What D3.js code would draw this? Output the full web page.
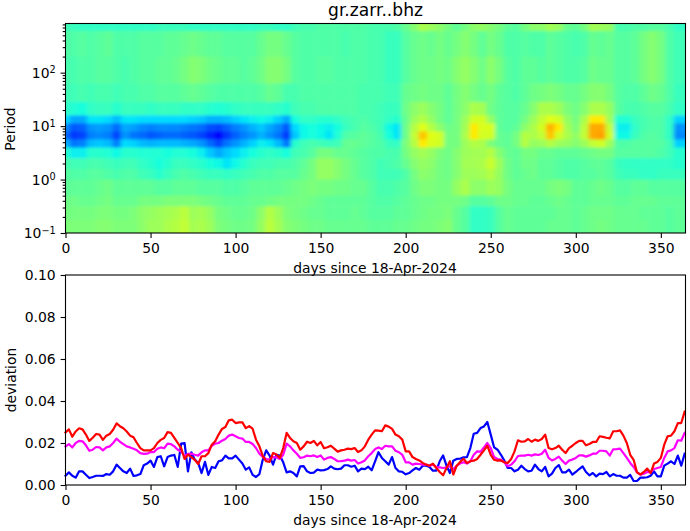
<!DOCTYPE html>
<html>
<head>
<meta charset="utf-8">
<script src="https://cdn.jsdelivr.net/npm/d3@7"></script>
<style>
body { margin: 0; background: #fff; }
text { font-family: "DejaVu Sans", sans-serif; fill: #000; }
.tick text { font-size: 13.9px; }
.axis path, .axis line { stroke: #000; stroke-width: 1.1px; }
.label { font-size: 13.9px; }
.title { font-size: 17.1px; }
</style>
</head>
<body>
<div id="graphic"></div>
<script>
var titleText = "gr.zarr..bhz";
var xLabel = "days since 18-Apr-2024";
var xTicks = [0, 50, 100, 150, 200, 250, 300, 350];
var devTicks = [0, 0.02, 0.04, 0.06, 0.08, 0.1];
var periodTicks = [0.1, 1, 10, 100];

// log10(period) edges of the heatmap rows, top to bottom
var rowEdges = [2.92, 2.78, 2.3, 1.8, 1.45, 1.2, 1.05, 0.9, 0.75, 0.6, 0.4, 0.2, 0, -0.3, -0.5, -0.75, -1];
// heatmap columns are centred every 5 days; values are positions on the colour map
var colDays = d3.range(0, 365, 5);
var cells = [
 [.43,.42,.41,.41,.41,.41,.41,.41,.41,.41, .41,.42,.42,.42,.42,.41,.41,.41,.41,.41, .41,.41,.41,.42,.42,.41,.41,.43,.44,.44, .45,.45,.45,.45,.45,.45,.44,.44,.44,.45, .48,.52,.57,.55,.53,.50,.47,.50,.53,.54, .52,.50,.47,.46,.50,.53,.53,.56,.54,.48, .47,.50,.56,.55,.54,.44,.44,.45,.45,.46, .46,.44,.41],
 [.45,.45,.46,.45,.46,.47,.45,.45,.45,.46, .46,.46,.47,.47,.48,.49,.48,.47,.47,.46, .46,.46,.46,.48,.50,.50,.48,.46,.45,.45, .45,.45,.45,.44,.45,.45,.44,.44,.42,.42, .46,.48,.49,.48,.50,.48,.50,.52,.50,.47, .50,.48,.45,.45,.46,.45,.45,.47,.46,.45, .44,.45,.48,.47,.48,.46,.46,.47,.50,.52, .50,.45,.43],
 [.44,.44,.45,.45,.46,.46,.45,.44,.45,.46, .46,.47,.47,.48,.50,.52,.51,.49,.48,.47, .47,.46,.47,.49,.52,.52,.50,.46,.45,.45, .46,.46,.45,.45,.45,.45,.44,.44,.42,.42, .46,.48,.49,.49,.50,.49,.52,.54,.52,.49, .53,.50,.46,.45,.47,.47,.46,.47,.46,.45, .45,.46,.49,.48,.48,.46,.46,.47,.50,.52, .50,.45,.43],
 [.43,.43,.44,.43,.44,.44,.43,.44,.44,.45, .45,.46,.46,.46,.47,.48,.47,.46,.45,.45, .45,.45,.45,.46,.48,.47,.44,.44,.45,.45, .45,.45,.45,.45,.45,.44,.44,.44,.43,.43, .48,.49,.50,.49,.49,.47,.50,.52,.50,.48, .50,.47,.46,.45,.47,.49,.50,.51,.50,.48, .48,.50,.52,.52,.50,.46,.45,.45,.47,.49, .48,.45,.42],
 [.41,.39,.38,.41,.42,.42,.40,.42,.42,.42, .41,.42,.42,.42,.41,.41,.41,.40,.39,.40, .41,.42,.42,.42,.42,.41,.40,.43,.44,.44, .45,.45,.45,.45,.45,.44,.44,.43,.42,.42, .49,.53,.55,.52,.50,.47,.50,.53,.57,.56, .49,.47,.46,.46,.48,.52,.57,.57,.55,.51, .49,.52,.57,.57,.54,.46,.44,.44,.45,.46, .46,.44,.41],
 [.34,.29,.29,.35,.35,.34,.31,.35,.35,.34, .34,.34,.34,.34,.34,.33,.32,.30,.30,.31, .33,.35,.36,.37,.36,.33,.29,.38,.41,.41, .40,.40,.41,.43,.44,.45,.44,.43,.41,.40, .48,.55,.58,.54,.50,.47,.50,.55,.62,.62, .54,.47,.46,.46,.50,.55,.60,.64,.62,.54, .50,.57,.66,.66,.55,.39,.39,.42,.44,.45, .45,.41,.33],
 [.26,.21,.22,.27,.28,.27,.23,.29,.28,.26, .25,.26,.26,.26,.25,.24,.23,.20,.19,.22, .25,.27,.30,.32,.29,.26,.21,.34,.37,.38, .37,.36,.38,.42,.44,.46,.45,.43,.37,.35, .49,.58,.64,.58,.53,.49,.50,.56,.66,.63, .63,.47,.46,.47,.53,.57,.62,.72,.66,.56, .51,.59,.73,.73,.60,.36,.36,.41,.44,.45, .45,.41,.27],
 [.23,.18,.19,.25,.26,.25,.19,.27,.24,.23, .21,.22,.23,.23,.22,.21,.19,.16,.13,.18, .22,.25,.27,.30,.27,.24,.18,.32,.37,.38, .37,.35,.39,.45,.46,.47,.46,.44,.38,.35, .49,.60,.70,.64,.62,.50,.50,.57,.66,.62, .62,.48,.47,.50,.58,.57,.60,.70,.62,.57, .53,.60,.73,.74,.62,.37,.37,.42,.45,.46, .45,.41,.26],
 [.30,.24,.25,.31,.32,.31,.25,.34,.33,.31, .30,.31,.31,.31,.30,.29,.27,.23,.19,.24, .27,.30,.33,.36,.35,.31,.24,.40,.43,.44, .43,.42,.43,.48,.48,.47,.46,.45,.42,.41, .51,.58,.66,.63,.62,.50,.50,.55,.58,.57, .51,.48,.47,.50,.58,.54,.55,.58,.55,.54, .52,.55,.60,.62,.55,.45,.45,.46,.46,.46, .46,.43,.33],
 [.40,.36,.36,.40,.40,.39,.37,.40,.40,.39, .39,.39,.38,.39,.39,.38,.36,.32,.29,.32, .34,.36,.38,.40,.41,.40,.38,.43,.44,.46, .50,.50,.48,.48,.47,.46,.45,.45,.44,.44, .50,.54,.56,.54,.51,.49,.52,.55,.56,.56, .58,.52,.48,.47,.50,.50,.48,.48,.47,.47, .47,.48,.49,.50,.50,.46,.46,.46,.46,.46, .45,.43,.40],
 [.44,.43,.43,.44,.44,.43,.42,.43,.43,.41, .40,.38,.40,.42,.42,.41,.40,.38,.37,.35, .37,.40,.42,.43,.43,.44,.44,.45,.47,.50, .54,.54,.52,.50,.48,.46,.45,.43,.44,.45, .48,.52,.54,.53,.50,.49,.52,.56,.56,.57, .61,.55,.49,.47,.49,.49,.47,.47,.46,.45, .45,.46,.47,.47,.46,.42,.41,.41,.41,.41, .41,.41,.40],
 [.46,.45,.45,.46,.46,.45,.44,.45,.45,.43, .42,.40,.42,.44,.45,.44,.43,.42,.42,.41, .42,.43,.44,.45,.45,.46,.46,.46,.48,.50, .54,.54,.52,.50,.48,.46,.45,.43,.43,.43, .45,.50,.53,.52,.50,.49,.52,.55,.55,.56, .58,.54,.49,.47,.48,.49,.47,.47,.46,.45, .45,.46,.46,.47,.46,.43,.42,.42,.41,.41, .42,.42,.42],
 [.47,.47,.47,.47,.48,.49,.47,.47,.47,.47, .47,.46,.46,.47,.47,.47,.46,.46,.46,.45, .45,.46,.47,.47,.47,.47,.48,.49,.50,.51, .50,.50,.49,.49,.48,.48,.46,.44,.44,.45, .46,.49,.51,.51,.50,.50,.54,.57,.53,.53, .55,.54,.50,.48,.48,.48,.48,.50,.51,.50, .47,.47,.48,.49,.48,.46,.46,.47,.47,.46, .46,.46,.46],
 [.49,.49,.48,.48,.49,.50,.48,.48,.48,.50, .50,.50,.51,.51,.51,.51,.50,.49,.48,.47, .47,.47,.48,.48,.49,.50,.50,.50,.50,.49, .48,.47,.47,.47,.47,.47,.46,.45,.45,.46, .47,.48,.49,.49,.50,.50,.50,.49,.46,.46, .47,.49,.49,.48,.48,.47,.47,.48,.49,.48, .47,.47,.48,.48,.48,.47,.47,.48,.48,.48, .47,.47,.47],
 [.50,.50,.50,.50,.51,.51,.50,.50,.51,.53, .54,.55,.56,.57,.59,.55,.56,.54,.50,.49, .48,.48,.49,.53,.58,.55,.51,.50,.49,.48, .48,.47,.47,.47,.48,.47,.46,.46,.46,.47, .47,.48,.49,.50,.50,.51,.48,.46,.41,.41, .42,.46,.48,.47,.47,.47,.47,.47,.48,.48, .47,.48,.49,.49,.49,.48,.48,.48,.47,.47, .47,.46,.47],
 [.51,.51,.51,.51,.52,.52,.51,.51,.51,.53, .55,.55,.57,.58,.60,.56,.57,.55,.51,.50, .49,.49,.50,.54,.59,.56,.52,.51,.50,.49, .49,.48,.48,.48,.48,.48,.47,.47,.47,.48, .48,.49,.50,.50,.51,.52,.48,.46,.41,.41, .42,.46,.48,.47,.47,.47,.47,.48,.48,.48, .47,.48,.49,.50,.49,.48,.48,.48,.48,.47, .47,.46,.47]
];

var days = d3.range(0, 365, 2);
var redValues = [
 .025,.0265,.023,.0255,.027,.0265,.024,.021,.0225,.0243,
 .024,.0215,.0235,.0243,.0263,.0293,.028,.027,.0255,.0235,
 .0227,.02,.0176,.0165,.0165,.0165,.0176,.02,.0215,.0224,
 .0252,.0248,.0224,.02,.0176,.0124,.0145,.0133,.012,.01,
 .0137,.0137,.0152,.0192,.0208,.024,.0267,.0276,.0308,.0311,
 .0295,.0298,.0298,.0271,.028,.0268,.0216,.0184,.0137,.0113,
 .011,.0152,.0145,.0129,.0176,.0248,.0224,.0208,.02,.0168,
 .0184,.0206,.02,.021,.0189,.0205,.0175,.018,.0187,.0173,
 .0159,.0165,.0168,.0173,.0171,.0176,.0157,.0165,.0184,.0216,
 .024,.026,.0259,.0256,.0284,.0278,.0267,.024,.0232,.0216,
 .016,.016,.0133,.0124,.0117,.0105,.0097,.0092,.0102,.0081,
 .0062,.0046,.0081,.0113,.005,.0092,.011,.0125,.0105,.0113,
 .0116,.0124,.0144,.0165,.0187,.0144,.012,.0116,.0117,.0108,
 .0105,.0124,.016,.0213,.0206,.0208,.0219,.0206,.0216,.021,
 .0219,.024,.0176,.017,.0176,.0187,.0168,.0152,.0176,.0187,
 .02,.021,.021,.0189,.0195,.0205,.0205,.0232,.0229,.0225,
 .0222,.0256,.0256,.026,.0235,.02,.0144,.012,.006,.005,
 .0062,.0078,.0057,.0102,.011,.0129,.0192,.0232,.0235,.0256,
 .0295,.0295,.0349
];
var magentaValues = [
 .0184,.0195,.0179,.02,.021,.0208,.0189,.0163,.0168,.0181,
 .0179,.0165,.0179,.0184,.02,.0221,.0206,.0195,.0184,.0179,
 .0173,.0165,.0152,.0148,.0149,.0157,.0157,.0173,.0179,.0175,
 .0197,.0195,.0184,.0168,.0159,.014,.0148,.0149,.0144,.014,
 .0156,.0165,.0165,.0187,.0197,.02,.0211,.0219,.0235,.024,
 .0232,.0224,.0221,.0205,.0205,.0195,.0176,.0149,.0133,.0124,
 .0121,.0133,.0132,.0124,.0144,.0197,.0184,.0165,.0149,.0129,
 .0132,.014,.0137,.0141,.0133,.0141,.0121,.0129,.0133,.0124,
 .0113,.0114,.0116,.0121,.0116,.0119,.0102,.0108,.0117,.0137,
 .0152,.0171,.0179,.0171,.0187,.0184,.0184,.0163,.0156,.0144,
 .0108,.0108,.0097,.0102,.01,.0097,.0097,.0092,.0097,.0086,
 .0084,.0081,.0084,.0089,.0076,.0092,.0102,.0108,.0102,.0113,
 .0144,.016,.0159,.0179,.02,.0176,.0133,.0124,.0121,.0108,
 .0089,.0097,.0113,.0138,.014,.014,.0144,.014,.0146,.0143,
 .0149,.0168,.0129,.0117,.0124,.0135,.0116,.01,.0116,.0121,
 .0129,.0141,.0141,.0135,.0141,.0149,.0149,.0163,.0163,.016,
 .014,.017,.0171,.0173,.0152,.0129,.0105,.0086,.006,.0049,
 .0054,.0062,.006,.0076,.0081,.0086,.0129,.016,.0165,.0176,
 .0213,.0211,.0248
];
var blueValues = [
 .0044,.006,.0044,.0035,.0065,.0065,.0049,.0033,.0038,.0044,
 .0044,.0043,.0052,.0049,.0065,.0097,.0081,.0065,.0057,.0078,
 .0043,.0046,.0052,.0094,.0102,.0116,.0086,.0133,.0137,.0089,
 .0133,.014,.0143,.0086,.0197,.02,.0065,.0156,.0121,.0105,
 .0057,.011,.0048,.0086,.0081,.0113,.0117,.014,.0127,.0127,
 .014,.0121,.0102,.0073,.0084,.0048,.0038,.0052,.0121,.0165,
 .014,.0097,.0144,.014,.0108,.006,.0065,.0057,.0041,.0089,
 .009,.0065,.0057,.0059,.0073,.007,.0071,.0076,.0089,.0078,
 .0075,.0078,.0094,.0094,.0087,.0092,.0065,.0078,.0076,.0087,
 .007,.0113,.0156,.0129,.0113,.0097,.0133,.0081,.0065,.0063,
 .0051,.0057,.007,.0081,.0073,.0092,.0092,.0086,.0068,.0068,
 .0113,.0141,.0092,.0057,.0116,.0124,.0125,.0132,.0133,.0176,
 .0244,.0248,.0271,.0279,.03,.024,.0179,.0168,.0144,.0116,
 .0081,.0081,.0065,.0073,.0092,.0076,.0065,.0068,.0097,.0076,
 .0065,.0086,.0041,.0054,.0081,.0095,.006,.006,.0073,.0049,
 .0062,.0076,.0089,.0062,.0046,.0057,.0041,.0054,.0052,.0062,
 .0041,.0052,.0044,.0044,.0035,.0035,.0048,.0019,.0019,.0035,
 .0035,.0037,.0044,.0065,.0041,.0041,.0092,.0102,.0113,.01,
 .014,.0092,.0149
];

var w = 690, h = 531;
var left = 65.5, right = 685.5;
var svg = d3.select("#graphic").append("svg")
    .attr("width", w).attr("height", h)
    .style("display", "block");

var xTop = d3.scaleLinear().domain([0, 364.5]).range([left, right]);
var xBottom = d3.scaleLinear().domain([0, 364.5]).range([left, right]);
var yPeriod = d3.scaleLog().domain([0.1, Math.pow(10, 2.92)]).range([233, 23.5]);
var yDev = d3.scaleLinear().domain([0, 0.1]).range([485, 275]);

// matplotlib jet
var jet = d3.scaleLinear()
    .domain([0, .11, .125, .34, .35, .375, .64, .65, .66, .89, .91, 1])
    .range(["#000080", "#0000ff", "#0000ff", "#00dbff", "#00e5f8", "#15ffe1", "#e1ff15", "#f1fc06", "#ffea00", "#ff1300", "#e80000", "#800000"]);

var defs = svg.append("defs");
defs.append("clipPath").attr("id", "topClip").append("rect")
    .attr("x", left).attr("y", 23.5).attr("width", right - left).attr("height", 209.5);
var blur = defs.append("filter").attr("id", "soft")
    .attr("filterUnits", "userSpaceOnUse")
    .attr("x", 40).attr("y", 0).attr("width", 670).attr("height", 260);
blur.append("feGaussianBlur").attr("stdDeviation", "2.2 1.5");

// heatmap cells, padded past the frame so the blur does not fade at the edges
var heat = svg.append("g").attr("clip-path", "url(#topClip)")
    .append("g").attr("filter", "url(#soft)");
cells.forEach(function(row, r){
    var y0 = yPeriod(Math.pow(10, rowEdges[r]));
    var y1 = yPeriod(Math.pow(10, rowEdges[r + 1]));
    if (r == 0) y0 -= 10;
    if (r == cells.length - 1) y1 += 10;
    heat.selectAll("rect.r" + r)
        .data(row)
        .enter()
        .append("rect")
        .attr("class", "r" + r)
        .attr("x", function(d, i){ return xTop(colDays[i] - 2.5) - (i == 0 ? 10 : 0); })
        .attr("y", y0)
        .attr("width", function(d, i){
            var end = i == colDays.length - 1 ? 380 : colDays[i] + 2.5;
            return xTop(end) - xTop(colDays[i] - 2.5) + (i == 0 ? 10 : 0) + 0.5;
        })
        .attr("height", y1 - y0 + 0.5)
        .attr("fill", function(d){ return jet(d); });
});

function frame(y0, y1){
    svg.append("rect")
        .attr("x", left).attr("y", y0)
        .attr("width", right - left).attr("height", y1 - y0)
        .attr("fill", "none").attr("stroke", "#000").attr("stroke-width", 1.1);
}

function bottomAxis(scale, y){
    var g = svg.append("g").attr("class", "axis")
        .attr("transform", "translate(0," + y + ")")
        .call(d3.axisBottom(scale).tickValues(xTicks).tickSize(4.9).tickPadding(4.9).tickFormat(d3.format("d")));
    g.select(".domain").remove();
}

// top panel
bottomAxis(xTop, 233);
var minor = [];
d3.range(-1, 3).forEach(function(e){
    d3.range(2, 10).forEach(function(m){
        var v = m * Math.pow(10, e);
        if (v < yPeriod.domain()[1]) minor.push(v);
    });
});
var yMinor = svg.append("g").attr("class", "axis")
    .attr("transform", "translate(" + left + ",0)")
    .call(d3.axisLeft(yPeriod).tickValues(minor).tickSize(2.8).tickFormat(""));
yMinor.select(".domain").remove();
var yMajor = svg.append("g").attr("class", "axis")
    .attr("transform", "translate(" + left + ",0)")
    .call(d3.axisLeft(yPeriod).tickValues(periodTicks).tickSize(4.9).tickPadding(4.9).tickFormat(""));
yMajor.select(".domain").remove();
yMajor.selectAll(".tick text").each(function(d){
    var t = d3.select(this);
    t.append("tspan").text("10");
    t.append("tspan").attr("dy", "-0.45em").style("font-size", "9.7px")
        .text(String(Math.round(Math.log10(d))).replace("-", "\u2212"));
});
frame(23.5, 233);

svg.append("text").attr("class", "title")
    .attr("x", 375.5).attr("y", 15.5)
    .attr("text-anchor", "middle").text(titleText);
svg.append("text").attr("class", "label")
    .attr("x", (left + right) / 2 - 0.5).attr("y", 273)
    .attr("text-anchor", "middle").text(xLabel);
svg.append("text").attr("class", "label")
    .attr("transform", "translate(15,129) rotate(-90)")
    .attr("text-anchor", "middle").text("Period");

// bottom panel
var line = d3.line()
    .x(function(d, i){ return xBottom(days[i]); })
    .y(function(d){ return yDev(d); });
[[blueValues, "#0000ff"], [magentaValues, "#ff00ff"], [redValues, "#ff0000"]].forEach(function(s){
    svg.append("path")
        .attr("d", line(s[0]))
        .attr("fill", "none")
        .attr("stroke", s[1])
        .attr("stroke-width", 2.2)
        .attr("stroke-linejoin", "round")
        .attr("stroke-linecap", "square");
});

bottomAxis(xBottom, 485);
var yDevAxis = svg.append("g").attr("class", "axis")
    .attr("transform", "translate(" + left + ",0)")
    .call(d3.axisLeft(yDev).tickValues(devTicks).tickSize(4.9).tickPadding(4.9).tickFormat(d3.format(".2f")));
yDevAxis.select(".domain").remove();
frame(275, 485);

svg.append("text").attr("class", "label")
    .attr("x", (left + right) / 2 - 0.5).attr("y", 525)
    .attr("text-anchor", "middle").text(xLabel);
svg.append("text").attr("class", "label")
    .attr("transform", "translate(16,380) rotate(-90)")
    .attr("text-anchor", "middle").text("deviation");
</script>
</body>
</html>
